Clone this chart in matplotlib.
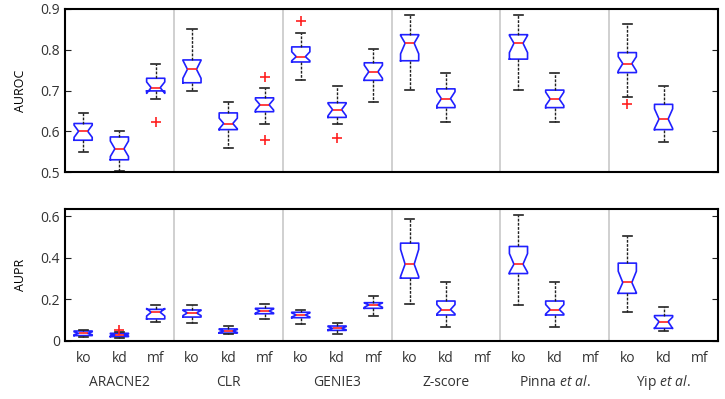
import matplotlib.pyplot as plt

plt.rcParams['font.family'] = ['Open Sans', 'DejaVu Sans']
plt.rcParams['mathtext.fontset'] = 'custom'
plt.rcParams['mathtext.rm'] = 'Open Sans'
plt.rcParams['mathtext.it'] = 'Open Sans:italic'

methods = ['ARACNE2', 'CLR', 'GENIE3', 'Z-score', 'Pinna $\\it{et\\ al.}$', 'Yip $\\it{et\\ al.}$']
conditions = ['ko', 'kd', 'mf']
# box slots (1-based); Z-score, Pinna and Yip have no mf box
positions = [1, 2, 3, 4, 5, 6, 7, 8, 9, 10, 11, 13, 14, 16, 17]

# AUROC: whisker low, q1, median, q3, whisker high, notch low, notch high
auroc_wlo = [0.548, 0.502, 0.678, 0.700, 0.560, 0.619, 0.726, 0.618, 0.672, 0.701, 0.622, 0.701, 0.622, 0.685, 0.574]
auroc_q1 = [0.578, 0.530, 0.699, 0.719, 0.604, 0.648, 0.770, 0.634, 0.725, 0.773, 0.658, 0.777, 0.658, 0.744, 0.604]
auroc_med = [0.600, 0.557, 0.707, 0.752, 0.619, 0.665, 0.783, 0.653, 0.746, 0.816, 0.680, 0.816, 0.679, 0.766, 0.630]
auroc_q3 = [0.619, 0.586, 0.730, 0.775, 0.645, 0.682, 0.807, 0.670, 0.768, 0.837, 0.704, 0.837, 0.701, 0.793, 0.666]
auroc_whi = [0.645, 0.600, 0.764, 0.850, 0.671, 0.707, 0.842, 0.711, 0.803, 0.886, 0.742, 0.886, 0.742, 0.864, 0.711]
auroc_cilo = [0.585, 0.538, 0.693, 0.730, 0.606, 0.652, 0.773, 0.638, 0.730, 0.790, 0.663, 0.793, 0.663, 0.748, 0.607]
auroc_cihi = [0.615, 0.576, 0.721, 0.774, 0.632, 0.678, 0.795, 0.668, 0.762, 0.835, 0.697, 0.835, 0.696, 0.783, 0.655]
auroc_out = [[], [], [0.622], [], [], [0.734, 0.578], [0.871], [0.583], [], [], [], [], [], [0.667], []]

# AUPR
aupr_wlo = [0.021, 0.016, 0.090, 0.088, 0.035, 0.106, 0.083, 0.032, 0.122, 0.180, 0.069, 0.173, 0.069, 0.141, 0.048]
aupr_q1 = [0.026, 0.021, 0.106, 0.115, 0.038, 0.131, 0.112, 0.051, 0.157, 0.302, 0.125, 0.324, 0.125, 0.229, 0.061]
aupr_med = [0.037, 0.029, 0.138, 0.135, 0.048, 0.144, 0.125, 0.061, 0.173, 0.369, 0.151, 0.369, 0.151, 0.281, 0.093]
aupr_q3 = [0.048, 0.037, 0.152, 0.149, 0.058, 0.157, 0.138, 0.072, 0.184, 0.470, 0.192, 0.454, 0.192, 0.374, 0.122]
aupr_whi = [0.053, 0.042, 0.173, 0.173, 0.071, 0.180, 0.149, 0.088, 0.215, 0.585, 0.281, 0.606, 0.281, 0.505, 0.164]
aupr_cilo = [0.030, 0.024, 0.120, 0.122, 0.041, 0.134, 0.115, 0.054, 0.162, 0.310, 0.130, 0.330, 0.130, 0.232, 0.060]
aupr_cihi = [0.044, 0.034, 0.156, 0.147, 0.055, 0.154, 0.135, 0.069, 0.183, 0.440, 0.175, 0.420, 0.175, 0.335, 0.115]
aupr_out = [[], [0.053], [], [], [], [], [], [], [], [], [], [], [], [], []]


def makeStats(wlo, q1, med, q3, whi, cilo, cihi, fliers):
    stats = []
    for i in range(len(med)):
        stats.append({'whislo': wlo[i], 'q1': q1[i], 'med': med[i], 'q3': q3[i],
                      'whishi': whi[i], 'cilo': cilo[i], 'cihi': cihi[i],
                      'fliers': fliers[i]})
    return stats


def drawPanel(ax, stats, ylim, yticks, ylabel):
    ax.bxp(stats, positions=positions, widths=0.5, capwidths=0.25, shownotches=True,
           boxprops=dict(color='#2020ff', linewidth=1.2),
           medianprops=dict(color='#ff2020', linewidth=1.2),
           whiskerprops=dict(color='#222222', linewidth=1.0, linestyle=(0, (2, 1))),
           capprops=dict(color='#222222', linewidth=1.2),
           flierprops=dict(marker='+', markeredgecolor='#ff2020', markersize=7, markeredgewidth=1.2))
    for k in range(1, len(methods)):
        ax.axvline(3 * k + 0.5, color='#c8c8c8', linewidth=1.2, zorder=0)
    ax.set_xlim(0.5, 18.5)
    ax.set_ylim(*ylim)
    ax.set_yticks(yticks)
    ax.set_ylabel(ylabel, fontsize=9, labelpad=10)
    ax.tick_params(axis='y', direction='in', right=True, labelsize=10, length=4, colors='#222222')
    ax.tick_params(axis='y', labelcolor='#333333')
    for sp in ax.spines.values():
        sp.set_linewidth(1.5)


fig = plt.figure(figsize=(7.25, 3.99), dpi=100)
axTop = fig.add_axes([65 / 725, 1 - 172 / 399, 653 / 725, 163 / 399])
axBot = fig.add_axes([65 / 725, 1 - 341 / 399, 653 / 725, 132 / 399])

drawPanel(axTop, makeStats(auroc_wlo, auroc_q1, auroc_med, auroc_q3, auroc_whi, auroc_cilo, auroc_cihi, auroc_out),
          (0.5, 0.9), [0.5, 0.6, 0.7, 0.8, 0.9], 'AUROC')
axTop.set_xticks([])

drawPanel(axBot, makeStats(aupr_wlo, aupr_q1, aupr_med, aupr_q3, aupr_whi, aupr_cilo, aupr_cihi, aupr_out),
          (0, 0.634), [0, 0.2, 0.4, 0.6], 'AUPR')
axBot.set_yticklabels(['0', '0.2', '0.4', '0.6'])
axBot.set_xticks(range(1, 19))
axBot.set_xticklabels(conditions * len(methods))
axBot.tick_params(axis='x', length=0, labelsize=10, pad=7, labelcolor='#333333')

for k, name in enumerate(methods):
    axBot.text(3 * k + 2, -0.2, name, ha='center', va='center', fontsize=10, color='#333333',
               transform=axBot.transData, clip_on=False)

fig.savefig('out.png', dpi=100)
